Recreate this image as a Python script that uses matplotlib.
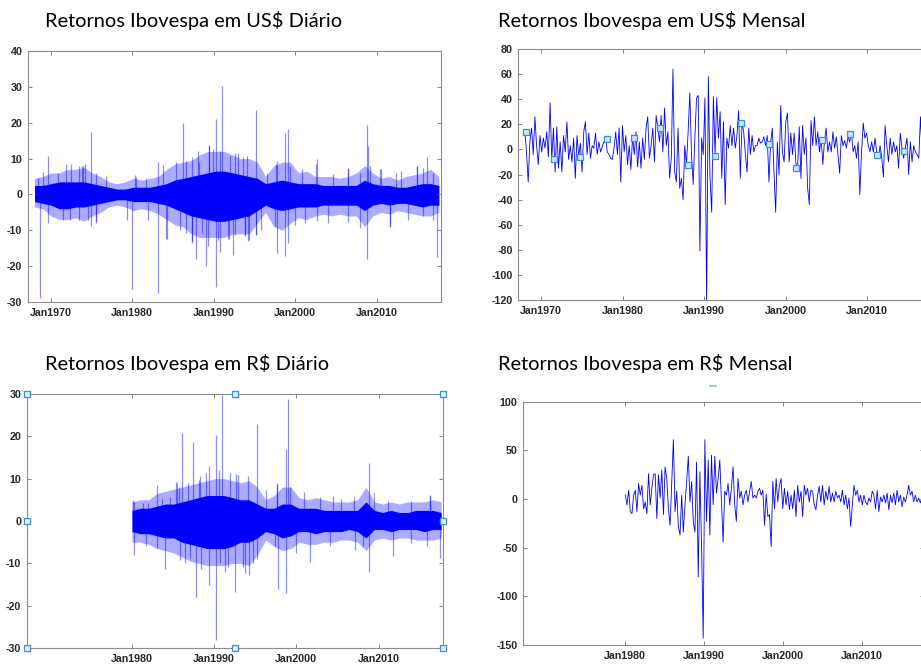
import matplotlib
matplotlib.use("Agg")
import matplotlib.pyplot as plt
from matplotlib.lines import Line2D
import numpy as np

plt.rcParams['axes.unicode_minus'] = False
plt.rcParams['font.family'] = ['Liberation Sans', 'DejaVu Sans']

# ------------------------------------------------------------------
# Data (values in %, x in years)
# ------------------------------------------------------------------

# Daily returns in US$ (1968-2017): yearly envelope of the dense band
usd_d_core_hi = [2.5, 2.5, 3, 3.5, 3.5, 3.5, 3.5, 3, 2.5, 2, 1.5, 1.5, 2, 2, 2, 2.5, 3, 4, 4.5, 5,
                 5.5, 6, 6.5, 6.5, 6, 5.5, 5, 4.5, 3, 3.5, 4, 3.5, 3, 3, 3, 2.5, 2.5, 2.5, 2.5, 2.5,
                 4, 3, 2.5, 2.5, 2, 2, 2.5, 3, 3, 2.5]
usd_d_core_lo = [-2, -2.5, -3, -4, -4, -3.5, -3.5, -3, -2.5, -2, -1.5, -1.5, -2, -2, -2, -2.5, -3, -4, -5, -6,
                 -6.5, -7, -7.5, -7.5, -7, -6.5, -6, -4.5, -3, -4, -4.5, -4, -3.5, -3.5, -3.5, -3, -3, -3, -3, -3,
                 -4.5, -3, -2.5, -3, -2.5, -2.5, -3, -3.5, -3, -3]
usd_d_fringe_hi = [4.5, 5, 6, 6, 7, 7, 7.5, 6, 5, 3.5, 3, 3.5, 4.5, 4, 4.5, 5, 7, 8.5, 9, 9.5,
                   11, 12, 12, 12, 11, 10, 10, 9, 5, 8, 9, 9, 6, 6.5, 5, 5, 5, 4.5, 5, 6,
                   8, 6, 4.5, 5, 4, 5, 5.5, 6, 7, 5]
usd_d_fringe_lo = [-3.5, -4, -6, -7, -7, -6.5, -7.5, -6, -5, -3.5, -3, -3.5, -4.5, -4, -4.5, -5.5, -7, -8.5, -9, -11,
                   -12, -12, -12, -12, -11, -11, -11, -8, -5, -9, -10, -8, -6.5, -7, -6, -5.5, -6, -5.5, -6, -6,
                   -9, -6, -5, -5.5, -4.5, -5, -5.5, -6, -6, -5]
# large isolated daily moves
usd_d_spike_t = [1968.7, 1969.7, 1969.7, 1972.5, 1974.0, 1974.9, 1974.9, 1975.6, 1980.0, 1980.4,
                 1983.1, 1983.1, 1984.2, 1986.2, 1987.3, 1987.8, 1988.0, 1989.0, 1989.4, 1990.2,
                 1990.2, 1991.05, 1990.7, 1991.7, 1992.4, 1992.6, 1993.6, 1994.2, 1993.8, 1995.2,
                 1995.2, 1997.8, 1997.6, 1998.7, 1998.7, 1999.1, 1999.1, 2002.5, 2006.4, 2008.8,
                 2008.8, 2008.9, 2010.5, 2011.6, 2013.0, 2014.9, 2016.2, 2017.4]
usd_d_spike_v = [-29, 10.7, -7.9, 8.5, 8, 17.5, -8.8, -8, -26.5, 5,
                 -27.5, 9, -12.4, 20, -13.5, -18, 12, -20, 13.5, 21,
                 -25.8, 30.3, -16, -12.5, -17, 11.5, 10.5, -13, -11.5, 23.5,
                 -11, -16.3, 8.5, 17.2, -17.2, 18.3, -13.5, 8.5, 7, 19.5,
                 -18, 13.5, 7, -9, 6.5, 8, 10.5, -17.5]
# smaller moves sticking out of the band
usd_d_small_t = [1968.4, 1969.0, 1970.9, 1971.8, 1973.4, 1973.8, 1974.2, 1975.6, 1976.8, 1980.3,
                 1981.7, 1983.8, 1985.4, 1986.6, 1987.3, 1988.2, 1989.4, 1989.9, 1990.8, 1992.0,
                 1993.0, 1994.1, 1996.5, 1997.8, 1999.3, 2000.8, 2002.6, 2004.6, 2006.5, 2007.9,
                 2009.1, 2010.4, 2012.4, 2014.9, 2015.7, 2016.9,
                 1971.5, 1972.3, 1973.4, 1974.6, 1975.5, 1979.3, 1981.9, 1984.1, 1985.8, 1986.6,
                 1987.3, 1988.5, 1989.3, 1990.5, 1991.8, 1992.6, 1993.8, 1994.3, 1995.2, 1995.8,
                 1997.5, 1999.9, 2001.2, 2002.6, 2004.0, 2006.5, 2007.9, 2011.6, 2013.8, 2015.7, 2016.9]
usd_d_small_v = [4.7, 6.2, 6, 8.6, 7.9, 7.9, 8.6, 6, 5.1, 5.3,
                 4.2, 8.1, 9, 9.4, 10.3, 9, 13.7, 12.7, 12.1, 10.7,
                 11.6, 10.7, 6, 9.3, 7.9, 7, 10, 5.6, 7.4, 6,
                 7.9, 7, 6, 7.9, 7.4, 6,
                 -7, -7, -7.2, -7, -7.4, -7, -7, -12.4, -9.8, -10.7,
                 -13, -10.7, -14.4, -12.6, -12.4, -11.2, -11.2, -12.6, -11.2, -9.8,
                 -8.8, -8.4, -7.9, -7.4, -7.9, -7.6, -9.3, -8.8, -7, -6, -7]

# Monthly returns in US$ (1968-2017)
usd_m = [15, -2, -26, 6, 17, -4, 26, 3, -12, 11, -2, 9, 1, 14, -6, 37, -8, 17, -18, 18,
         -15, 6, -18, 11, -2, 22, -8, 3, -10, 9, -23, 11, -6, 5, -18, 14, 22, -4, 13, -7,
         3, 1, 13, -4, 6, -2, 2, 6, 9, -2, -4, -7, -8, 1, 14, -4, 17, -26, 19, -2,
         11, -12, 3, -16, 10, -4, 14, -14, 6, -15, 9, -8, 17, 26, -7, 3,
         17, -10, 27, 17, 6, 27, -2, 33, 3, 14, -23, -7, 64, -18, -26, 17, -31, -23, -40, 3,
         -12, 14, 45, -4, -28, 9, 41, 43, -81, 9, -4, 41, -125, 58, -23, -50, 42, -4, 41, 9,
         30, -23, 22, -44, 9, 1, 19, 3, 17, 1, 11, 31, -23, 21, 14, -4, -18, 17, -4, 11,
         -2, 3, 3, 9, 5, 6, 10, 3, 11, -26, 5, 17, -18, -50, 6, -20, 35, -2, -10, 22,
         29, -10, 13, -4, 13, -11, -15, 18, -23, 19, -4, 9, -31, -44, 23, 3, 26, 3, 14, -2,
         9, -12, 7, 17, -2, 6, -2, 14, 1, 10, -4, -19, 11, 3, 7, 1, 10, 6, 14, -2,
         3, -7, 6, -36, -2, 21, 9, 13, 3, -2, 6, -2, 9, -2, -7, 3, -7, -22, 19, 3,
         -10, 9, -4, 6, -2, 3, -15, 13, 1, -7, 1, 9, -20, 6, -10, 3, -2, -4, -7, 26,
         -4, 3, -8, 5, -3]
# square selection markers MATLAB drew on the monthly US$ line
usd_m_sel_t = [1968.15, 1971.55, 1974.82, 1978.07, 1981.42, 1984.65, 1988.09, 1991.4,
               1994.56, 1997.96, 2001.3, 2004.54, 2007.86, 2011.22, 2014.49]
usd_m_sel_v = [13.6, -7.7, -6.1, 8.5, 9.3, 17.1, -12.4, -5.3, 21, 4.1, -14.6, 7.3, 12.6, -4.6, -1.0]

# Daily returns in R$ (1980-2017)
brl_d_core_hi = [2.5, 3, 3, 3.5, 4, 4, 4.5, 5, 5.5, 6, 6, 6, 5.5, 5, 5, 4, 3, 3, 4, 4,
                 3, 3, 3, 2.5, 2.5, 2.5, 2.5, 2.5, 4.5, 2.5, 2, 2.5, 2, 2, 2.5, 2.5, 2.5, 2]
brl_d_core_lo = [-2.5, -3, -3, -3.5, -4, -4, -5, -5.5, -6, -6.5, -6.5, -6.5, -6, -5, -5, -4, -2.5, -3, -4, -3.5,
                 -2.5, -2.5, -3, -2.5, -2.5, -2.5, -2, -2.5, -4, -2, -2, -2.5, -2, -2, -2, -2.5, -2, -2]
brl_d_fringe_hi = [4.5, 5, 5, 6.5, 7, 7.5, 8, 8.5, 9, 9.5, 10, 10, 9.5, 9, 9.5, 8, 5, 6, 8, 8,
                   5.5, 5, 5.5, 5, 4.5, 4.5, 4.5, 5, 8, 4.5, 4, 4.5, 4, 4.5, 4.5, 4.5, 5, 4.5]
brl_d_fringe_lo = [-5, -5, -5.5, -6.5, -7, -7.5, -8.5, -9.5, -10, -10.5, -10.5, -10.5, -10, -10, -10.5, -8, -4.5, -6, -7, -6.5,
                   -5, -5.5, -5.5, -5, -5, -4.5, -4.5, -5, -7, -4.5, -4, -4.5, -4, -4, -4.5, -4.5, -4.5, -4]
brl_d_spike_t = [1980.3, 1980.2, 1983.0, 1984.0, 1985.5, 1986.1, 1986.4, 1987.4, 1987.8, 1988.3,
                 1989.4, 1989.4, 1990.2, 1990.2, 1991.0, 1991.3, 1992.5, 1992.6, 1993.8, 1994.2,
                 1995.2, 1995.2, 1997.8, 1997.6, 1998.7, 1998.7, 1999.0, 2001.7, 2004.5, 2008.8,
                 2008.8, 2011.7, 2016.3, 2017.4]
brl_d_spike_v = [-8, 4.5, 8.6, -11.2, 9, 20.7, -10, 18.5, -18, 10.5,
                 13, -15, 20.3, -28, 29.8, -12, -16.7, 11, -12.2, -12.7,
                 22.8, -9, -16.1, 8.5, 17, -17, 28.7, -9.6, 6, 13.6,
                 -12.1, -8.3, 6, -8.8]
brl_d_small_t = [1980.1, 1981.3, 1981.9, 1983.7, 1984.6, 1985.3, 1985.7, 1986.8, 1988.2, 1989.0,
                 1990.6, 1991.9, 1992.9, 1994.1, 1996.3, 1997.6, 1999.2, 2000.9, 2002.9, 2005.4,
                 2007.0, 2009.4, 2011.1, 2013.9, 2016.3,
                 1981.7, 1983.0, 1985.8, 1987.0, 1988.4, 1990.7, 1991.7, 1993.5, 1994.7, 1997.4,
                 2000.0, 2004.1, 2007.1, 2008.1, 2013.9, 2015.9]
brl_d_small_v = [5, 4.2, 4.2, 5.3, 5.7, 9.3, 8.1, 8.9, 9.7, 11.2,
                 12, 11.2, 10.8, 10.6, 7.3, 8.9, 8.1, 6.9, 5.7, 5.3,
                 5.7, 6.5, 4.6, 4.6, 6.1,
                 -6, -6.4, -9.2, -8.8, -11.2, -10, -10.8, -10.8, -10, -6,
                 -7.6, -6, -6.8, -6, -5.3, -6]

# Monthly returns in R$ (1980-2017)
brl_m = [4, -6, 9, -13, -15, 4, 9, -13, 16, 4, 14, -10, -3, -15, 26, -6, 11, 25, 26, -20,
         25, 1, 30, -16, 33, 21, -10, -27, 16, 61, -13, 8, -28, -37, 4, -34, -6, 18, 44, -3,
         18, -23, -34, 38, -80, 28, -49, -143, 61, -23, 40, -37, 45, -6, 44, 6, 21, 40, -3, -44,
         8, 4, 16, -6, 11, 33, -6, -23, 21, 1, 8, -6, 4, 9, -3, 8, 18, 1, 4, 1,
         8, 11, 4, 9, -27, 5, -18, -16,
         -49, 18, -10, 21, -3, 14, 21, -10, 11, -6, 8, -11, 4, -10, 9, -18, 14, -3, 8, -18,
         14, 4, 11, -3, 9, 8, -6, -11, 4, 13, -3, 14, -6, 8, -1, 13, -3, 6, -3, 8,
         1, 4, -3, 9, -6, 4, -10, 1, -28, -6, 14, 4, 9, -3, 4, -6, 4, -3, -6, 1,
         -3, 8, 4, -10, 9, -13, 2, -3, 4, -4, 6, -11, 4, -4, 6, -6, 9, -3, 4, -8,
         2, -3, 4, 14, 4, 8, -3, 4, -3, 1, -4, 2]

x_lim = (1967.2, 2017.86)
usd_ticks = [1970, 1980, 1990, 2000, 2010]
brl_ticks = [1980, 1990, 2000, 2010]

# time axes for each series
usd_d_t = np.linspace(1968.0, 2017.6, len(usd_d_core_hi))
brl_d_t = np.linspace(1980.0, 2017.6, len(brl_d_core_hi))
usd_m_t = np.linspace(1968.0, 2017.6, len(usd_m))
brl_m_t = np.linspace(1980.1, 2017.6, len(brl_m))

# ------------------------------------------------------------------
W, H = 921, 664
fig = plt.figure(figsize=(W / 100, H / 100), dpi=100)


def box(l, r, t, b):
    return [l / W, 1 - b / H, (r - l) / W, (b - t) / H]


def matlab_style(ax, yticks, xticks):
    ax.set_xlim(x_lim)
    ax.set_ylim(yticks[0], yticks[-1])
    ax.set_yticks(yticks)
    ax.set_yticklabels([str(v) for v in yticks])
    ax.set_xticks(xticks)
    ax.set_xticklabels(['Jan%d' % y for y in xticks])
    ax.tick_params(direction='in', length=3, width=0.6, color='#707070',
                   top=True, right=True, labelsize=7.7, labelcolor='#262626', pad=4)
    for lbl in ax.get_xticklabels() + ax.get_yticklabels():
        lbl.set_fontweight('bold')
    for s in ax.spines.values():
        s.set_color('#8c8c8c')
        s.set_linewidth(0.8)


def daily(ax, t, core_lo, core_hi, fr_lo, fr_hi, sm_t, sm_v, sp_t, sp_v):
    ax.fill_between(t, fr_lo, fr_hi, color='blue', alpha=0.33, lw=0)
    ax.vlines(sm_t, 0, sm_v, color='blue', alpha=0.45, lw=0.9)
    ax.fill_between(t, core_lo, core_hi, color='blue', lw=0)
    ax.vlines(sp_t, 0, sp_v, color='blue', alpha=0.45, lw=0.9)


def title(x, y, s):
    fig.text(x / W, 1 - y / H, s, fontsize=14.4, family=['Lato', 'DejaVu Sans'],
             va='baseline', ha='left', color='black')


# top left: US$ daily
ax1 = fig.add_axes(box(28, 441, 51, 302))
daily(ax1, usd_d_t, usd_d_core_lo, usd_d_core_hi, usd_d_fringe_lo, usd_d_fringe_hi,
      usd_d_small_t, usd_d_small_v, usd_d_spike_t, usd_d_spike_v)
matlab_style(ax1, list(range(-30, 41, 10)), usd_ticks)
title(45, 27, 'Retornos Ibovespa em US$ Diário')

# top right: US$ monthly (screenshot cropped on the right)
ax2 = fig.add_axes(box(518.3, 931, 49, 300))
ax2.plot(usd_m_t, usd_m, color='blue', lw=0.6)
ax2.plot(usd_m_sel_t, usd_m_sel_v, 's', ms=4.5, mec='#3d8fd1', mfc='#cfe5f6', mew=0.9)
matlab_style(ax2, list(range(-120, 81, 20)), usd_ticks)
title(497.7, 27, 'Retornos Ibovespa em US$ Mensal')

# bottom left: R$ daily (selected axes, with handles)
ax3 = fig.add_axes(box(26.7, 443.3, 393.7, 648.3))
daily(ax3, brl_d_t, brl_d_core_lo, brl_d_core_hi, brl_d_fringe_lo, brl_d_fringe_hi,
      brl_d_small_t, brl_d_small_v, brl_d_spike_t, brl_d_spike_v)
matlab_style(ax3, list(range(-30, 31, 10)), brl_ticks)
ax3.plot([0, 0.5, 1, 0, 1, 0, 0.5, 1], [1, 1, 1, 0.5, 0.5, 0, 0, 0], 's',
         transform=ax3.transAxes, clip_on=False, ms=4, mec='#3d8fd1', mfc='#e3f0fa', mew=0.9, zorder=5)
title(45, 370, 'Retornos Ibovespa em R$ Diário')

# bottom right: R$ monthly
ax4 = fig.add_axes(box(523.3, 924, 401.7, 645))
ax4.plot(brl_m_t, brl_m, color='blue', lw=0.6)
matlab_style(ax4, list(range(-150, 101, 50)), brl_ticks)
title(497.7, 370, 'Retornos Ibovespa em R$ Mensal')
fig.add_artist(Line2D([710 / W, 716 / W], [1 - 386 / H, 1 - 386 / H], color='#8fbde3', lw=1.2))

plt.savefig('out.png', dpi=100)
